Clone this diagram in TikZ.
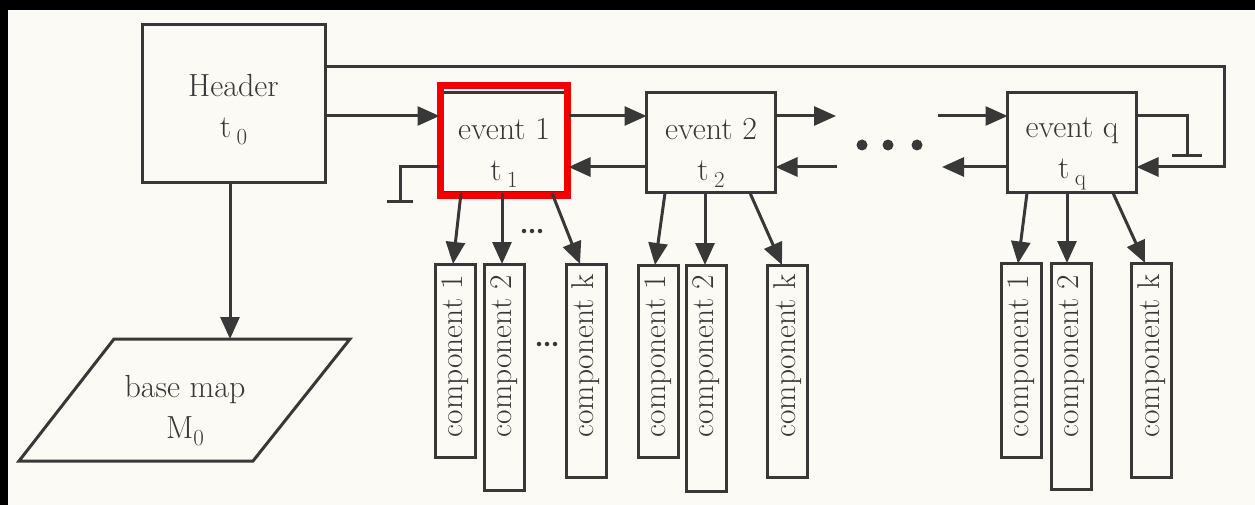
\documentclass[tikz,border=0pt]{standalone}
\usepackage{fontspec}
\usetikzlibrary{arrows.meta}
\definecolor{ink}{HTML}{383838}
\definecolor{paper}{HTML}{FBFAF5}
\definecolor{hlred}{HTML}{F20000}
\newcommand{\tsub}[1]{t\,\raisebox{-7pt}{\fontsize{23}{23}\selectfont #1}}
\begin{document}
\begin{tikzpicture}[x=1pt,y=-1pt,
  ln/.style={draw=ink, line width=3pt},
  arr/.style={ln, -{Triangle[length=22pt,width=19pt]}},
  txt/.style={text=ink, align=center, font=\fontsize{32}{41}\selectfont},
  box/.style={draw=ink, line width=3pt, rectangle, inner sep=0pt, outer sep=0pt, txt},
  evt/.style={box, minimum width=129pt, minimum height=100pt},
  comp/.style={draw=ink, line width=3pt, rectangle, inner sep=0pt, outer sep=0pt, minimum width=40pt},
  ctext/.style={rotate=90, text=ink, font=\fontsize{31.5}{32}\selectfont, inner sep=0pt},
  bigdot/.style={fill=ink, draw=none, circle, minimum size=11pt, inner sep=0pt},
  smalldot/.style={fill=ink, draw=none, circle, minimum size=4.5pt, inner sep=0pt}]
% page and scan borders
\fill[paper] (0,0) rectangle (1255,505);
\useasboundingbox (0,0) rectangle (1255,505);
\fill[black] (0,0) rectangle (1255,10);
\fill[black] (0,0) rectangle (8,505);
% levels
\coordinate (top) at (0,67);
\coordinate (up) at (0,116);
\coordinate (dn) at (0,167);
% nodes
\node[box, minimum width=183pt, minimum height=158pt] (header) at (233.5,104) {\rule{0pt}{33pt}Header\\\tsub{0}};
\draw[ln, line join=miter] (19,461) -- (114,339) -- (350,339) -- (253,461) -- cycle;
\node[txt] (bm) at (185,411) {base map\\M\raisebox{-7pt}{\fontsize{23}{23}\selectfont 0}};
\coordinate (bmtop) at (230,339);
\node[evt] (e1) at (504,143) {\rule{0pt}{42pt}event 1\\\tsub{1}};
\node[evt] (e2) at (711,143) {\rule{0pt}{42pt}event 2\\\tsub{2}};
\node[evt] (eq) at (1072,143) {\rule{0pt}{42pt}event q\\\tsub{q}};
\node[draw=hlred, line width=7pt, rectangle, minimum width=127pt, minimum height=109.5pt, inner sep=0pt] (hl) at (504,140.75) {};
% components of event 1
\node[comp, minimum height=193pt] (c11) at (455.5,360.5) {};
\node[comp, minimum height=226pt] (c12) at (504,377) {};
\node[comp, minimum height=213pt] (c1k) at (586,370.5) {};
% components of event 2
\node[comp, minimum height=192pt] (c21) at (658.5,361) {};
\node[comp, minimum height=226pt] (c22) at (706.5,378) {};
\node[comp, minimum height=212pt] (c2k) at (787.5,371) {};
% components of event q
\node[comp, minimum height=194pt] (cq1) at (1021,360.5) {};
\node[comp, minimum height=226pt] (cq2) at (1071,376) {};
\node[comp, minimum height=214pt] (cqk) at (1151.5,370) {};
% component labels
\foreach \n/\t in {c11/component 1, c12/component 2, c1k/component k,
                   c21/component 1, c22/component 2, c2k/component k,
                   cq1/component 1, cq2/component 2, cqk/component k}
  \node[ctext] at (\n.center |- 0,356) {\t};
% free ends
\coordinate (e2outup) at (836,116);
\coordinate (e2indn) at (837,167);
\coordinate (eqinup) at (938,116);
\coordinate (eqoutdn) at (942,167);
\coordinate (loopx) at (1224,0);
\coordinate (g1) at (400,202);
\coordinate (gq) at (1187,156);
% chain arrows
\draw[arr] (header.east |- up) -- (e1.west |- up);
\draw[arr] (e1.east |- up) -- (e2.west |- up);
\draw[arr] (e2.west |- dn) -- (e1.east |- dn);
\draw[arr] (e2.east |- up) -- (e2outup);
\draw[arr] (e2indn) -- (e2.east |- dn);
\draw[arr] (eqinup) -- (eq.west |- up);
\draw[arr] (eq.west |- dn) -- (eqoutdn);
\draw[arr] (header.east |- top) -- (loopx |- top) -- (loopx |- dn) -- (eq.east |- dn);
% grounds
\draw[ln] (e1.west |- dn) -| (g1);
\draw[ln] ([xshift=-13pt]g1) -- ([xshift=13pt]g1);
\draw[ln] (eq.east |- up) -| (gq);
\draw[ln] ([xshift=-15pt]gq) -- ([xshift=15pt]gq);
% header to base map
\draw[arr] (header.south -| bmtop) -- (bmtop);
% dots
\node[bigdot] at (862,145) {};
\node[bigdot] at (888,145) {};
\node[bigdot] at (917,145) {};
\foreach \x in {524,532,540} \node[smalldot] at (\x,231) {};
\foreach \x in {539,547,555} \node[smalldot] at (\x,344) {};
% event to component arrows
\draw[arr] ([xshift=-43pt]e1.south) -- ([xshift=-2.5pt]c11.north);
\draw[arr] ([xshift=-2pt]e1.south) -- ([xshift=-2pt]c12.north);
\draw[arr] ([xshift=48pt]e1.south) -- ([xshift=-6pt]c1k.north);
\draw[arr] ([xshift=-46pt]e2.south) -- ([xshift=-3.5pt]c21.north);
\draw[arr] ([xshift=-6pt]e2.south) -- ([xshift=-1.5pt]c22.north);
\draw[arr] ([xshift=39pt]e2.south) -- ([xshift=-5.5pt]c2k.north);
\draw[arr] ([xshift=-45pt]eq.south) -- ([xshift=-3pt]cq1.north);
\draw[arr] ([xshift=-5pt]eq.south) -- ([xshift=-4pt]cq2.north);
\draw[arr] ([xshift=41pt]eq.south) -- ([xshift=-6.5pt]cqk.north);
\end{tikzpicture}
\end{document}
